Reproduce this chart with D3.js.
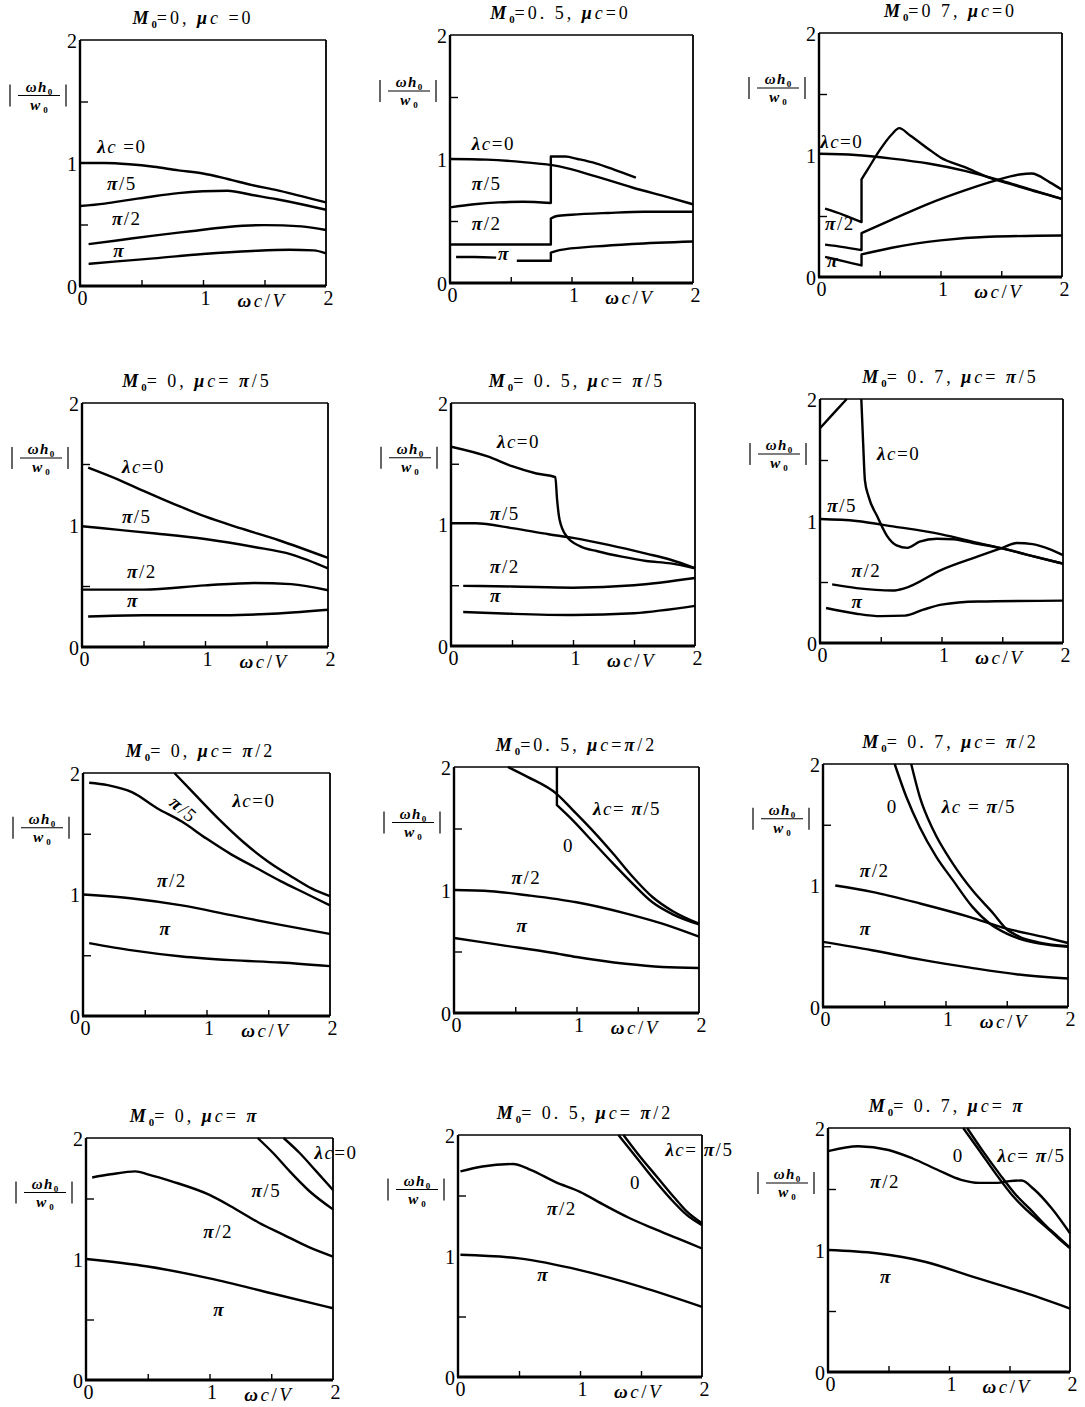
<!DOCTYPE html>
<html>
<head>
<meta charset="utf-8">
<script src="https://cdn.jsdelivr.net/npm/d3@7"></script>
<style>
  body { margin: 0; background: #fff; }
  svg text { font-family: "Liberation Serif", "Times New Roman", serif; fill: #000; }
</style>
</head>
<body>
<script>
// ---- datos (x = ωc/V, y = |ωh0/w0|) ; null = hueco, x repetida = salto vertical ----

// fila 1 : μc = 0
var r1c1_l0  = [[0,1.0],[0.2,1.0],[0.4,0.99],[0.6,0.97],[0.8,0.94],[1.0,0.915],[1.2,0.87],[1.4,0.82],[1.6,0.78],[1.8,0.73],[2.0,0.68]];
var r1c1_l5  = [[0,0.65],[0.2,0.67],[0.4,0.7],[0.6,0.73],[0.8,0.755],[1.0,0.77],[1.2,0.775],[1.4,0.74],[1.6,0.705],[1.8,0.665],[2.0,0.62]];
var r1c1_l2  = [[0.07,0.34],[0.3,0.37],[0.6,0.41],[0.9,0.445],[1.2,0.48],[1.5,0.495],[1.8,0.485],[2.0,0.455]];
var r1c1_lpi = [[0.07,0.18],[0.3,0.2],[0.6,0.225],[1.0,0.26],[1.4,0.285],[1.7,0.295],[1.9,0.29],[2.0,0.265]];

var r1c2_l0  = [[0,1.0],[0.3,0.995],[0.6,0.975],[0.9,0.94],[1.2,0.86],[1.5,0.77],[1.8,0.69],[2.0,0.635]];
var r1c2_l5  = [[0,0.61],[0.2,0.635],[0.4,0.65],[0.6,0.655],[0.83,0.645],[0.83,1.02],[0.95,1.02],[1.05,1.0],[1.2,0.965],[1.35,0.915],[1.53,0.85]];
var r1c2_l2  = [[0,0.31],[0.4,0.31],[0.83,0.31],[0.83,0.52],[0.88,0.54],[1.0,0.55],[1.3,0.565],[1.6,0.575],[2.0,0.575]];
var r1c2_lpi = [[0.05,0.21],[0.2,0.21],[0.38,0.205],null,[0.55,0.18],[0.7,0.18],[0.83,0.18],[0.83,0.245],[0.9,0.265],[1.2,0.295],[1.5,0.315],[2.0,0.335]];

var r1c3_l0  = [[0,1.01],[0.3,1.0],[0.6,0.97],[0.9,0.93],[1.2,0.87],[1.5,0.79],[1.8,0.7],[2.0,0.64]];
var r1c3_l5  = [[0.05,0.56],[0.2,0.51],[0.35,0.45],[0.35,0.8],[0.4,0.88],[0.5,1.04],[0.6,1.17],[0.66,1.22],[0.75,1.16],[0.9,1.05],[1.0,0.98],[1.2,0.9],[1.4,0.815],[1.6,0.755],[1.8,0.695],[2.0,0.64]];
var r1c3_l2  = [[0.05,0.265],[0.2,0.245],[0.35,0.22],[0.35,0.36],[0.6,0.47],[0.9,0.6],[1.2,0.71],[1.45,0.79],[1.65,0.84],[1.75,0.848],[1.9,0.776],[2.0,0.716]];
var r1c3_lpi = [[0.05,0.165],[0.2,0.13],[0.35,0.095],[0.35,0.185],[0.6,0.24],[1.0,0.3],[1.4,0.33],[2.0,0.34]];

// fila 2 : μc = π/5
var r2c1_l0  = [[0.05,1.47],[0.3,1.37],[0.5,1.28],[0.8,1.15],[1.0,1.07],[1.3,0.97],[1.6,0.875],[2.0,0.73]];
var r2c1_l5  = [[0,0.99],[0.3,0.96],[0.6,0.93],[1.0,0.885],[1.4,0.82],[1.7,0.76],[2.0,0.645]];
var r2c1_l2  = [[0,0.47],[0.5,0.47],[1.0,0.505],[1.4,0.525],[1.7,0.515],[2.0,0.465]];
var r2c1_lpi = [[0.05,0.25],[0.5,0.26],[1.0,0.26],[1.5,0.27],[2.0,0.305]];

var r2c2_l0  = [[0,1.64],[0.3,1.56],[0.5,1.48],[0.7,1.42],[0.855,1.39],[0.87,1.2],[0.89,1.04],[0.95,0.9],[1.06,0.82],[1.2,0.78],[1.4,0.735],[1.6,0.7],[1.8,0.68],[2.0,0.64]];
var r2c2_l5  = [[0,1.01],[0.2,1.01],[0.5,0.97],[0.8,0.92],[1.0,0.89],[1.3,0.83],[1.6,0.76],[1.8,0.71],[2.0,0.64]];
var r2c2_l2  = [[0.1,0.495],[0.5,0.49],[1.0,0.48],[1.5,0.5],[2.0,0.56]];
var r2c2_lpi = [[0.1,0.28],[0.5,0.265],[1.0,0.255],[1.5,0.27],[2.0,0.33]];

var r2c3_l0  = [[0,1.76],[0.1,1.87],[0.22,2.0],null,[0.34,2.0],[0.355,1.64],[0.37,1.33],[0.4,1.2],[0.47,1.04],[0.55,0.88],[0.63,0.8],[0.72,0.78],[0.82,0.83],[0.96,0.855],[1.1,0.85],[1.26,0.82],[1.5,0.775],[1.7,0.725],[2.0,0.65]];
var r2c3_l5  = [[0,1.016],[0.3,1.0],[0.6,0.956],[1.0,0.89],[1.3,0.82],[1.5,0.775],[1.7,0.725],[2.0,0.65]];
var r2c3_l2  = [[0.1,0.48],[0.3,0.45],[0.6,0.43],[0.7,0.45],[1.0,0.6],[1.3,0.71],[1.5,0.78],[1.62,0.82],[1.75,0.81],[1.9,0.765],[2.0,0.72]];
var r2c3_lpi = [[0.05,0.287],[0.3,0.24],[0.5,0.22],[0.7,0.224],[0.85,0.273],[1.0,0.314],[1.3,0.34],[2.0,0.347]];

// fila 3 : μc = π/2
var r3c1_l0  = [[0.74,2.0],[0.9,1.83],[1.1,1.62],[1.3,1.43],[1.5,1.27],[1.7,1.14],[1.85,1.05],[2.0,0.986]];
var r3c1_l5  = [[0.05,1.92],[0.2,1.9],[0.4,1.84],[0.6,1.71],[0.8,1.6],[1.0,1.46],[1.2,1.33],[1.4,1.22],[1.6,1.11],[1.8,1.01],[2.0,0.91]];
var r3c1_l2  = [[0,1.0],[0.4,0.967],[0.8,0.91],[1.2,0.83],[1.6,0.75],[2.0,0.675]];
var r3c1_lpi = [[0.05,0.6],[0.4,0.54],[0.8,0.49],[1.2,0.46],[1.6,0.44],[2.0,0.41]];

var r3c2_l0  = [[0.84,2.0],[0.84,1.69],[0.97,1.566],[1.135,1.39],[1.3,1.214],[1.46,1.05],[1.62,0.9],[1.79,0.8],[2.0,0.72]];
var r3c2_l5  = [[0.44,2.0],[0.6,1.92],[0.84,1.78],[0.97,1.65],[1.13,1.485],[1.3,1.295],[1.46,1.106],[1.62,0.943],[1.79,0.825],[2.0,0.726]];
var r3c2_l2  = [[0,1.0],[0.3,0.99],[0.6,0.957],[1.0,0.9],[1.4,0.81],[1.7,0.726],[2.0,0.62]];
var r3c2_lpi = [[0,0.61],[0.4,0.55],[0.8,0.49],[1.0,0.455],[1.4,0.4],[1.7,0.374],[2.0,0.366]];

var r3c3_l0  = [[0.585,2.0],[0.68,1.73],[0.79,1.48],[0.925,1.236],[1.06,1.044],[1.22,0.824],[1.36,0.687],[1.5,0.604],[1.6,0.563],[1.77,0.522],[2.0,0.495]];
var r3c3_l5  = [[0.72,2.0],[0.79,1.73],[0.9,1.456],[1.06,1.18],[1.22,0.96],[1.39,0.77],[1.5,0.64],[1.6,0.58],[1.77,0.53],[2.0,0.5]];
var r3c3_l2  = [[0.1,1.0],[0.4,0.948],[0.8,0.85],[1.2,0.74],[1.5,0.645],[1.8,0.577],[2.0,0.527]];
var r3c3_lpi = [[0,0.536],[0.4,0.467],[0.8,0.39],[1.2,0.324],[1.6,0.267],[2.0,0.234]];

// fila 4 : μc = π
var r4c1_l0  = [[1.6,2.0],[1.73,1.876],[1.865,1.724],[2.0,1.57]];
var r4c1_l5  = [[1.39,2.0],[1.515,1.876],[1.65,1.724],[1.81,1.56],[2.0,1.41]];
var r4c1_l2  = [[0.05,1.674],[0.2,1.7],[0.4,1.724],[0.5,1.7],[0.7,1.64],[1.0,1.53],[1.2,1.42],[1.4,1.3],[1.6,1.2],[1.8,1.1],[2.0,1.02]];
var r4c1_lpi = [[0,1.0],[0.5,0.938],[1.0,0.84],[1.5,0.717],[2.0,0.593]];

var r4c2_l0  = [[1.315,2.0],[1.466,1.81],[1.6,1.64],[1.74,1.476],[1.877,1.338],[2.0,1.255]];
var r4c2_l5  = [[1.356,2.0],[1.493,1.82],[1.63,1.655],[1.767,1.49],[1.877,1.366],[2.0,1.27]];
var r4c2_l2  = [[0.02,1.7],[0.2,1.74],[0.45,1.76],[0.6,1.71],[0.8,1.61],[1.0,1.53],[1.2,1.42],[1.4,1.316],[1.6,1.228],[1.8,1.145],[2.0,1.062]];
var r4c2_lpi = [[0.02,1.01],[0.5,0.98],[1.0,0.883],[1.5,0.745],[2.0,0.58]];

var r4c3_l0  = [[1.117,2.0],[1.255,1.81],[1.393,1.616],[1.53,1.44],[1.65,1.32],[1.8,1.19],[1.9,1.1],[2.0,1.014]];
var r4c3_l5  = [[1.15,2.0],[1.28,1.81],[1.42,1.62],[1.55,1.455],[1.67,1.335],[1.8,1.2],[1.9,1.11],[2.0,1.02]];
var r4c3_l2  = [[0,1.81],[0.25,1.85],[0.5,1.82],[0.7,1.75],[0.9,1.66],[1.1,1.575],[1.25,1.55],[1.4,1.55],[1.5,1.565],[1.6,1.57],[1.7,1.5],[1.85,1.34],[2.0,1.137]];
var r4c3_lpi = [[0,1.0],[0.4,0.973],[0.8,0.904],[1.2,0.78],[1.6,0.658],[2.0,0.52]];

// rótulos de curvas: [texto, x, y, giro]
var r1c1_text = [["λc =0",0.14,1.08],["π/5",0.22,0.78],["π/2",0.26,0.5],["π",0.27,0.236]];
var r1c2_text = [["λc=0",0.18,1.07],["π/5",0.18,0.75],["π/2",0.18,0.43],["π",0.395,0.185]];
var r1c3_text = [["λc=0",0.01,1.06],["π/2",0.05,0.385],["π",0.066,0.08]];
var r2c1_text = [["λc=0",0.325,1.43],["π/5",0.325,1.02],["π/2",0.366,0.565],["π",0.366,0.33]];
var r2c2_text = [["λc=0",0.377,1.63],["π/5",0.32,1.04],["π/2",0.32,0.6],["π",0.32,0.36]];
var r2c3_text = [["λc=0",0.47,1.5],["π/5",0.06,1.07],["π/2",0.26,0.54],["π",0.26,0.29]];
var r3c1_text = [["λc=0",1.21,1.72],["π/5",0.69,1.74,41],["π/2",0.6,1.06],["π",0.62,0.67]];
var r3c2_text = [["λc= π/5",1.135,1.61],["0",0.89,1.31],["π/2",0.47,1.05],["π",0.51,0.66]];
var r3c3_text = [["0",0.52,1.6],["λc = π/5",0.97,1.6],["π/2",0.3,1.07],["π",0.3,0.59]];
var r4c1_text = [["λc=0",1.85,1.83],["π/5",1.34,1.51],["π/2",0.95,1.17],["π",1.03,0.53]];
var r4c2_text = [["λc= π/5",1.7,1.83],["0",1.41,1.55],["π/2",0.73,1.34],["π",0.65,0.79]];
var r4c3_text = [["0",1.03,1.72],["λc= π/5",1.4,1.72],["π/2",0.35,1.51],["π",0.43,0.73]];

var panelTitles = ["M₀=0, μc =0", "M₀=0. 5, μc=0", "M₀=0 7, μc=0",
                   "M₀= 0, μc= π/5", "M₀= 0. 5, μc= π/5", "M₀= 0. 7, μc= π/5",
                   "M₀= 0, μc= π/2", "M₀=0. 5, μc=π/2", "M₀= 0. 7, μc= π/2",
                   "M₀= 0, μc= π", "M₀= 0. 5, μc= π/2", "M₀= 0. 7, μc= π"];

var tickLabels = [0, 1, 2];
var innerTicks = [0.5, 1, 1.5];

var panelCurves = [
  [r1c1_l0, r1c1_l5, r1c1_l2, r1c1_lpi], [r1c2_l0, r1c2_l5, r1c2_l2, r1c2_lpi], [r1c3_l0, r1c3_l5, r1c3_l2, r1c3_lpi],
  [r2c1_l0, r2c1_l5, r2c1_l2, r2c1_lpi], [r2c2_l0, r2c2_l5, r2c2_l2, r2c2_lpi], [r2c3_l0, r2c3_l5, r2c3_l2, r2c3_lpi],
  [r3c1_l0, r3c1_l5, r3c1_l2, r3c1_lpi], [r3c2_l0, r3c2_l5, r3c2_l2, r3c2_lpi], [r3c3_l0, r3c3_l5, r3c3_l2, r3c3_lpi],
  [r4c1_l0, r4c1_l5, r4c1_l2, r4c1_lpi], [r4c2_l0, r4c2_l5, r4c2_l2, r4c2_lpi], [r4c3_l0, r4c3_l5, r4c3_l2, r4c3_lpi]
];
var panelTexts = [r1c1_text, r1c2_text, r1c3_text, r2c1_text, r2c2_text, r2c3_text,
                  r3c1_text, r3c2_text, r3c3_text, r4c1_text, r4c2_text, r4c3_text];

// posición de cada recuadro en la página
var layout = [
  {x:80,  y:40,   w:246, h:246, tdx:-10}, {x:450, y:35,   w:243, h:248, tdx:-11}, {x:819, y:33,   w:243, h:244, tdx:10},
  {x:82,  y:403,  w:246, h:244, tdx:-8},  {x:451, y:403,  w:244, h:243, tdx:4},   {x:820, y:399,  w:243, h:244, tdx:9},
  {x:83,  y:773,  w:247, h:243, tdx:-6},  {x:454, y:767,  w:245, h:246, tdx:0},   {x:823, y:764,  w:245, h:243, tdx:5},
  {x:86,  y:1138, w:247, h:242, tdx:-15}, {x:458, y:1135, w:244, h:242, tdx:5},   {x:828, y:1128, w:242, h:244, tdx:-2}
];

var svg = d3.select("body").append("svg")
            .attr("width", 1085)
            .attr("height", 1407);

// texto con letras griegas en cursiva y subíndice ₀
function richText(t, str, size) {
  var runs = [];
  for (var ch of str) {
    var cls = ch === "₀" ? "sub" : ("λμπωM".indexOf(ch) >= 0 ? "ib" : ("cVhw".indexOf(ch) >= 0 ? "i" : "r"));
    var last = runs[runs.length - 1];
    if (last && last.cls === cls && cls !== "sub") last.txt += ch;
    else runs.push({cls: cls, txt: ch === "₀" ? "0" : ch});
  }
  var shift = 0;
  runs.forEach(function(r) {
    var ts = t.append("tspan").text(r.txt);
    if (r.cls === "sub") {
      ts.attr("font-size", size * 0.6).attr("dy", size * 0.22).attr("font-weight", "bold").attr("letter-spacing", 0);
      shift = size * 0.22;
    } else if (shift) {
      ts.attr("dy", -shift);
      shift = 0;
    }
    if (r.cls === "ib") ts.attr("font-style", "italic").attr("font-weight", "bold");
    if (r.cls === "i") ts.attr("font-style", "italic");
  });
}

// camino suave por tramos: null corta, x repetida une con recta vertical
function curvePath(pts, x, y) {
  var smooth = d3.line().x(function(d) { return x(d[0]); })
                        .y(function(d) { return y(d[1]); })
                        .curve(d3.curveMonotoneX);
  var d = "", run = [], runConnect = false;
  function flush() {
    if (!run.length) return;
    var s = run.length > 1 ? smooth(run) : "M" + x(run[0][0]) + "," + y(run[0][1]);
    if (runConnect) s = "L" + s.slice(1);
    d += s;
  }
  pts.forEach(function(p) {
    if (p === null) { flush(); run = []; runConnect = false; return; }
    if (run.length && p[0] === run[run.length - 1][0]) { flush(); run = [p]; runConnect = true; return; }
    run.push(p);
  });
  flush();
  return d;
}

layout.forEach(function(box, i) {
  var x = d3.scaleLinear().domain([0, 2]).range([box.x, box.x + box.w]);
  var y = d3.scaleLinear().domain([0, 2]).range([box.y + box.h, box.y]);
  var g = svg.append("g");

  g.append("clipPath").attr("id", "clip" + i)
   .append("rect")
   .attr("x", box.x).attr("y", box.y - 1)
   .attr("width", box.w + 1).attr("height", box.h + 1);

  // marco
  g.append("line").attr("x1", box.x).attr("x2", box.x + box.w).attr("y1", box.y).attr("y2", box.y)
   .attr("stroke", "#000").attr("stroke-width", 1.6);
  g.append("line").attr("x1", box.x + box.w).attr("x2", box.x + box.w).attr("y1", box.y).attr("y2", box.y + box.h)
   .attr("stroke", "#000").attr("stroke-width", 1.8);
  g.append("line").attr("x1", box.x).attr("x2", box.x).attr("y1", box.y).attr("y2", box.y + box.h)
   .attr("stroke", "#000").attr("stroke-width", 2.4);
  g.append("line").attr("x1", box.x - 1).attr("x2", box.x + box.w).attr("y1", box.y + box.h).attr("y2", box.y + box.h)
   .attr("stroke", "#000").attr("stroke-width", 2.8);

  // marcas interiores
  var xt = g.append("g").attr("transform", "translate(0," + (box.y + box.h) + ")")
            .call(d3.axisBottom(x).tickValues(innerTicks).tickSize(-6).tickFormat(""));
  var yt = g.append("g").attr("transform", "translate(" + box.x + ",0)")
            .call(d3.axisLeft(y).tickValues([0.5, 1.5]).tickSize(-8).tickFormat(""));
  [xt, yt].forEach(function(a) {
    a.select(".domain").remove();
    a.selectAll("line").attr("stroke", "#000").attr("stroke-width", 1.4);
  });

  // números de los ejes
  var xl = g.append("g").attr("transform", "translate(2," + (box.y + box.h) + ")")
            .call(d3.axisBottom(x).tickValues(tickLabels).tickSize(0).tickPadding(5).tickFormat(d3.format("d")));
  var yl = g.append("g").attr("transform", "translate(" + (box.x - 3) + ",0)")
            .call(d3.axisLeft(y).tickValues(tickLabels).tickSize(0).tickPadding(0).tickFormat(d3.format("d")));
  [xl, yl].forEach(function(a) {
    a.select(".domain").remove();
    a.attr("font-family", null).attr("font-size", null);
    a.selectAll("text").attr("font-size", 20).attr("fill", "#000");
  });
  yl.selectAll("text").attr("dy", "0.36em");

  // ωc/V
  var xa = g.append("text")
            .attr("x", x(1.48)).attr("y", box.y + box.h + 21)
            .attr("text-anchor", "middle")
            .attr("font-size", 19).attr("letter-spacing", 2.5);
  richText(xa, "ωc/V", 19);

  // |ωh0 / w0|
  var fy = y(1.5) - 6;
  var fx = box.x - 41;
  g.append("line").attr("x1", fx - 21).attr("x2", fx + 21).attr("y1", fy).attr("y2", fy)
   .attr("stroke", "#000").attr("stroke-width", 1.2);
  var num = g.append("text").attr("x", fx).attr("y", fy - 4).attr("text-anchor", "middle")
             .attr("font-size", 15).attr("font-weight", "bold").attr("letter-spacing", 1.5);
  richText(num, "ωh₀", 15);
  var den = g.append("text").attr("x", fx).attr("y", fy + 14).attr("text-anchor", "middle")
             .attr("font-size", 15).attr("font-weight", "bold").attr("letter-spacing", 3);
  richText(den, "w₀", 15);
  [box.x - 70, box.x - 14].forEach(function(bx) {
    g.append("line").attr("x1", bx).attr("x2", bx).attr("y1", fy - 11).attr("y2", fy + 11)
     .attr("stroke", "#000").attr("stroke-width", 1.2);
  });

  // título
  var tt = g.append("text")
            .attr("x", box.x + box.w / 2 + box.tdx).attr("y", box.y - 16)
            .attr("text-anchor", "middle")
            .attr("font-size", 18).attr("letter-spacing", 3);
  richText(tt, panelTitles[i], 18);

  // curvas
  g.append("g").attr("clip-path", "url(#clip" + i + ")")
   .selectAll("path")
   .data(panelCurves[i])
   .enter()
   .append("path")
   .attr("d", function(d) { return curvePath(d, x, y); })
   .attr("fill", "none")
   .attr("stroke", "#000")
   .attr("stroke-width", 2.4)
   .attr("stroke-linejoin", "round");

  // rótulos
  panelTexts[i].forEach(function(lb) {
    var t = g.append("text")
             .attr("x", x(lb[1])).attr("y", y(lb[2]))
             .attr("font-size", 19).attr("letter-spacing", 1.5);
    if (lb[3]) t.attr("transform", "rotate(" + lb[3] + "," + x(lb[1]) + "," + y(lb[2]) + ")");
    richText(t, lb[0], 19);
  });
});
</script>
</body>
</html>
